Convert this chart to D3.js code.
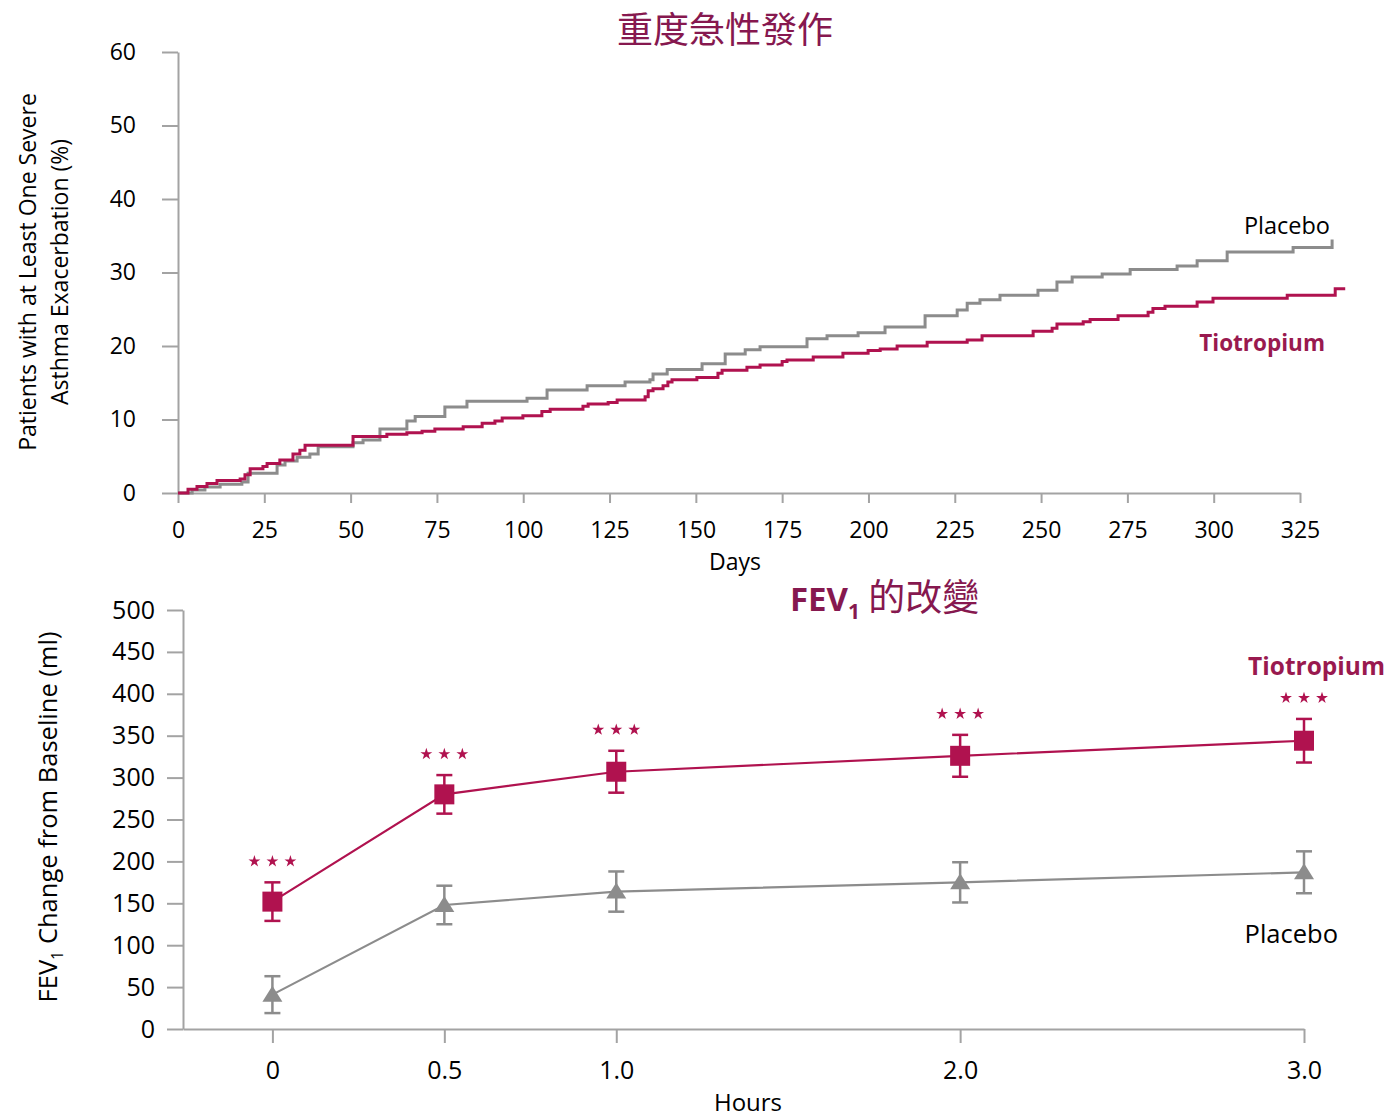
<!DOCTYPE html>
<html lang="zh-Hant">
<head>
<meta charset="UTF-8">
<title>重度急性發作 / FEV1 的改變</title>
<script src="https://d3js.org/d3.v7.min.js"></script>
<style>
  body { margin: 0; background: #fff; }
  svg text { font-family: "Open Sans", "Noto Sans", sans-serif; fill: #000; }
  .axis path, .axis line { stroke: #a3a3a3; stroke-width: 2px; }
  .axis text { font-size: 23px; }
  .cjk { font-family: "Noto Sans CJK TC", sans-serif !important; }
</style>
</head>
<body>
<svg width="1389" height="1117"></svg>
<script>
// ---- top chart: cumulative % with at least one severe exacerbation (step curves)
const tioDays = [0, 2.9, 5.5, 8.4, 11.3, 18.0, 19.4, 20.9, 24.6, 25.8, 29.5, 33.3, 35.3, 36.8, 50.7, 60.5, 66.3,
  70.7, 74.4, 82.6, 88.1, 91.8, 93.9, 99.9, 105.4, 107.8, 117.3, 118.8, 124.6, 127.2, 135.3, 136.2, 137.6,
  140.5, 141.9, 143.1, 150.3, 156.4, 157.6, 164.8, 168.6, 175.0, 176.4, 184.0, 192.6, 199.9, 203.4, 208.3,
  217.0, 228.6, 232.9, 247.7, 253.2, 254.6, 262.2, 264.2, 272.3, 281.0, 282.4, 285.9, 295.2, 299.8, 321.3,
  335.2, 338.1];
const tioPct = [0, 0.5, 0.9, 1.3, 1.7, 1.9, 2.5, 3.3, 3.6, 4.0, 4.5, 5.3, 5.8, 6.5, 7.7, 8.0, 8.2,
  8.4, 8.7, 9.0, 9.5, 9.8, 10.2, 10.5, 11.1, 11.4, 11.8, 12.1, 12.3, 12.65, 13.1, 13.9, 14.2,
  14.6, 15.1, 15.4, 15.7, 16.3, 16.7, 17.1, 17.4, 17.9, 18.1, 18.5, 19.0, 19.4, 19.6, 20.0,
  20.5, 20.8, 21.4, 22.0, 22.4, 23.0, 23.3, 23.6, 24.1, 24.6, 25.1, 25.4, 26.0, 26.5, 26.9,
  27.8, 27.8];
const plaDays = [0, 4.1, 7.8, 12.2, 18.5, 20.3, 28.7, 31.0, 34.5, 38.2, 40.6, 50.7, 53.6, 58.5, 66.3,
  68.7, 77.3, 83.7, 101.1, 106.9, 118.5, 129.5, 136.7, 137.6, 141.7, 151.8, 158.5, 164.3, 168.6, 182.2,
  188.0, 197.0, 204.8, 216.4, 225.7, 228.6, 232.3, 238.1, 249.1, 254.6, 259.0, 267.7, 275.8, 289.4,
  295.2, 303.9, 323.0, 334.3];
const plaPct = [0, 0.4, 0.8, 1.2, 1.5, 2.7, 3.8, 4.35, 4.85, 5.3, 6.3, 6.85, 7.2, 8.7, 9.8,
  10.4, 11.7, 12.5, 12.9, 14.0, 14.6, 15.1, 15.4, 16.2, 16.8, 17.6, 18.9, 19.5, 19.9, 21.0,
  21.4, 21.8, 22.6, 24.1, 24.9, 25.8, 26.3, 26.9, 27.6, 28.7, 29.4, 29.8, 30.4, 30.9,
  31.6, 32.8, 33.4, 34.5];
const dayTicks = [0, 25, 50, 75, 100, 125, 150, 175, 200, 225, 250, 275, 300, 325];
const pctTicks = [0, 10, 20, 30, 40, 50, 60];

// ---- bottom chart: FEV1 change from baseline (ml)
const hours = [0, 0.5, 1, 2, 3];
const tioFev = [152, 280, 307, 326, 344];
const tioErr = [23, 23, 25, 25, 26];
const plaFev = [41, 148, 164, 175, 187];
const plaErr = [22, 23, 24, 24, 25];
const hourLabels = ['0', '0.5', '1.0', '2.0', '3.0'];
const fevTicks = [0, 50, 100, 150, 200, 250, 300, 350, 400, 450, 500];

const RED = '#b0124f', GREY = '#8c8c8c', TITLE = '#86184f', LABEL = '#99194f';

const svg = d3.select('svg');

// ================= top chart =================
const x1 = d3.scaleLinear().domain([0, 325]).range([178, 1300]);
const y1 = d3.scaleLinear().domain([0, 60]).range([493, 52]);

svg.append('g').attr('class', 'axis')
  .attr('transform', `translate(0,${y1(0)})`)
  .call(d3.axisBottom(x1).tickValues(dayTicks).tickSize(10).tickSizeOuter(0).tickPadding(19));
svg.append('g').attr('class', 'axis')
  .attr('transform', `translate(${x1(0)},0)`)
  .call(d3.axisLeft(y1).tickValues(pctTicks).tickSize(16).tickSizeOuter(0).tickPadding(26));
svg.selectAll('.axis text').attr('fill', '#000');

const step = d3.line().curve(d3.curveStepAfter).x(d => x1(d[0])).y(d => y1(d[1]));
const plaSteps = plaDays.map((d, i) => [d, plaPct[i]]);
const tioSteps = tioDays.map((d, i) => [d, tioPct[i]]);
svg.append('path').attr('d', step(plaSteps)).attr('fill', 'none').attr('stroke', GREY).attr('stroke-width', 3);
svg.append('path').attr('d', step(tioSteps)).attr('fill', 'none').attr('stroke', RED).attr('stroke-width', 3);

svg.append('text').attr('class', 'cjk').attr('x', 725).attr('y', 43).attr('text-anchor', 'middle')
  .style('font-size', '36px').style('fill', TITLE).text('重度急性發作');

svg.append('text').attr('x', 735).attr('y', 570).attr('text-anchor', 'middle')
  .style('font-size', '23px').text('Days');

const yt1 = svg.append('text').attr('transform', 'translate(0,272) rotate(-90)')
  .attr('text-anchor', 'middle').style('font-size', '23px');
yt1.append('tspan').attr('x', 0).attr('y', 36).text('Patients with at Least One Severe');
yt1.append('tspan').attr('x', 0).attr('y', 68).text('Asthma Exacerbation (%)');

svg.append('text').attr('x', 1330).attr('y', 234).attr('text-anchor', 'end')
  .style('font-size', '23.5px').text('Placebo');
svg.append('text').attr('x', 1325).attr('y', 351).attr('text-anchor', 'end')
  .style('font-size', '22.5px').style('font-weight', 'bold').style('fill', LABEL).text('Tiotropium');

// ================= bottom chart =================
const x2 = d3.scaleLinear().domain([-0.26, 3]).range([183, 1304]);
const y2 = d3.scaleLinear().domain([0, 500]).range([1029, 610]);

svg.append('g').attr('class', 'axis')
  .attr('transform', `translate(0,${y2(0)})`)
  .call(d3.axisBottom(x2).tickValues(hours).tickFormat((d, i) => hourLabels[i])
    .tickSize(14).tickSizeOuter(0).tickPadding(18))
  .selectAll('text').style('font-size', '25px');
svg.append('g').attr('class', 'axis')
  .attr('transform', `translate(${x2(-0.26)},0)`)
  .call(d3.axisLeft(y2).tickValues(fevTicks).tickSize(16).tickSizeOuter(0).tickPadding(12))
  .selectAll('text').style('font-size', '25px');
svg.selectAll('.axis text').attr('fill', '#000');

const ln = d3.line().x(d => x2(d.h)).y(d => y2(d.v));
const pla = hours.map((h, i) => ({ h, v: plaFev[i], e: plaErr[i] }));
const tio = hours.map((h, i) => ({ h, v: tioFev[i], e: tioErr[i] }));

function drawSeries(data, color, marker) {
  const g = svg.append('g');
  g.append('path').attr('d', ln(data)).attr('fill', 'none').attr('stroke', color).attr('stroke-width', 2.2);
  const eb = g.selectAll('.eb').data(data).enter().append('g').attr('stroke', color).attr('stroke-width', 2.5);
  eb.append('line').attr('x1', d => x2(d.h)).attr('x2', d => x2(d.h))
    .attr('y1', d => y2(d.v + d.e)).attr('y2', d => y2(d.v - d.e));
  eb.append('line').attr('x1', d => x2(d.h) - 8).attr('x2', d => x2(d.h) + 8)
    .attr('y1', d => y2(d.v + d.e)).attr('y2', d => y2(d.v + d.e));
  eb.append('line').attr('x1', d => x2(d.h) - 8).attr('x2', d => x2(d.h) + 8)
    .attr('y1', d => y2(d.v - d.e)).attr('y2', d => y2(d.v - d.e));
  if (marker === 'square') {
    g.selectAll('.m').data(data).enter().append('rect')
      .attr('x', d => x2(d.h) - 10).attr('y', d => y2(d.v) - 10)
      .attr('width', 20).attr('height', 20).attr('fill', color);
  } else {
    g.selectAll('.m').data(data).enter().append('path')
      .attr('d', d => {
        const cx = x2(d.h), cy = y2(d.v);
        return `M${cx},${cy - 9}L${cx + 10},${cy + 7}L${cx - 10},${cy + 7}Z`;
      })
      .attr('fill', color);
  }
}
drawSeries(pla, GREY, 'triangle');
drawSeries(tio, RED, 'square');

// significance stars above tiotropium error bars
const star = d3.symbol(d3.symbolStar).size(44);
tio.forEach(d => {
  [-18, 0, 18].forEach(dx => {
    svg.append('path').attr('d', star)
      .attr('transform', `translate(${x2(d.h) + dx},${y2(d.v + d.e) - 21})`)
      .attr('fill', RED);
  });
});

const t2 = svg.append('text').attr('x', 790).attr('y', 611).style('fill', TITLE);
t2.append('tspan').style('font-size', '33px').style('font-weight', 'bold').text('FEV');
t2.append('tspan').attr('dy', 8).style('font-size', '21px').style('font-weight', 'bold').text('1');
t2.append('tspan').attr('dy', -8).attr('class', 'cjk').style('font-size', '37px').text(' 的改變');

svg.append('text').attr('x', 748).attr('y', 1111).attr('text-anchor', 'middle')
  .style('font-size', '24px').text('Hours');

const yt2 = svg.append('text').attr('transform', 'translate(57,817) rotate(-90)')
  .attr('text-anchor', 'middle').style('font-size', '25.5px');
yt2.append('tspan').text('FEV');
yt2.append('tspan').attr('dy', 6).style('font-size', '16px').text('1');
yt2.append('tspan').attr('dy', -6).text(' Change from Baseline (ml)');

svg.append('text').attr('x', 1385).attr('y', 675).attr('text-anchor', 'end')
  .style('font-size', '24.5px').style('font-weight', 'bold').style('fill', LABEL).text('Tiotropium');
svg.append('text').attr('x', 1338).attr('y', 943).attr('text-anchor', 'end')
  .style('font-size', '25.5px').text('Placebo');
</script>
</body>
</html>
